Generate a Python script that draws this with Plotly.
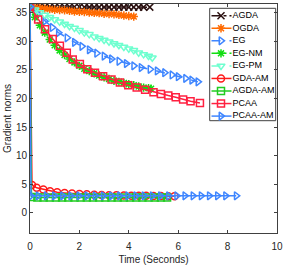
import plotly.graph_objects as go

# ---- data ----
t_agda = [0, 0.2, 0.4, 0.6, 0.8, 1.0, 1.2, 1.4, 1.6, 1.8, 2.0, 2.2, 2.4, 2.6, 2.8, 3.0, 3.2, 3.4, 3.6, 3.8, 4.0, 4.2, 4.4, 4.6, 4.85]
y_agda = [36.0, 36.0, 36.0, 36.0, 36.0, 36.0, 36.0, 36.0, 36.0, 36.0, 36.0, 35.95, 35.95, 35.95, 35.95, 35.95, 35.95, 35.95, 35.95, 35.95, 35.95, 35.95, 35.95, 35.95, 35.95]

t_ogda = [0, 0.2, 0.4, 0.6, 0.8, 1.0, 1.2, 1.4, 1.6, 1.8, 2.0, 2.2, 2.4, 2.6, 2.8, 3.0, 3.2, 3.4, 3.6, 3.8, 4.0, 4.2]
y_ogda = [36.0, 35.9, 35.8, 35.7, 35.6, 35.5, 35.45, 35.4, 35.3, 35.2, 35.15, 35.1, 35.0, 34.95, 34.9, 34.8, 34.75, 34.7, 34.6, 34.5, 34.4, 34.3]

t_eg = [0, 0.3, 0.6, 0.9, 1.15, 1.5, 1.8, 2.1, 2.4, 2.7, 3.0, 3.3, 3.6, 3.9, 4.2, 4.5, 4.86, 5.15, 5.45, 5.75, 6.0, 6.3, 6.55, 6.8]
y_eg = [36.0, 34.8, 33.5, 32.4, 31.5, 30.6, 29.8, 29.1, 28.5, 27.9, 27.4, 26.9, 26.5, 26.1, 25.7, 25.4, 25.1, 24.8, 24.5, 24.1, 23.8, 23.5, 23.2, 22.9]

t_egnm = [0, 0.2, 0.4, 0.6, 0.8, 1.0, 1.2, 1.4, 1.6, 1.8, 2.0, 2.2, 2.4, 2.6, 2.8, 3.0, 3.2, 3.4, 3.6, 3.8, 4.0, 4.2, 4.4, 4.6, 4.8, 4.9]
y_egnm = [36.0, 34.2, 32.8, 31.5, 30.3, 29.3, 28.4, 27.6, 26.9, 26.3, 25.7, 25.2, 24.8, 24.4, 24.0, 23.7, 23.4, 23.1, 22.9, 22.7, 22.5, 22.3, 22.1, 21.9, 21.8, 21.7]

t_egpm = [0, 0.2, 0.4, 0.6, 0.8, 1.0, 1.2, 1.4, 1.6, 1.8, 2.0, 2.2, 2.4, 2.6, 2.8, 3.0, 3.2, 3.4, 3.6, 3.8, 4.0, 4.2, 4.4, 4.6, 4.8, 4.95]
y_egpm = [36.0, 35.5, 35.0, 34.6, 34.2, 33.8, 33.4, 33.0, 32.6, 32.3, 31.9, 31.5, 31.2, 30.8, 30.5, 30.2, 29.9, 29.6, 29.3, 29.0, 28.7, 28.4, 28.0, 27.7, 27.4, 27.1]

t_gdaam = [0, 0.08, 0.27, 0.54, 0.81, 1.1, 1.4, 1.7, 2.0, 2.3, 2.6, 2.9, 3.2, 3.5, 3.8, 4.1, 4.4, 4.7, 5.0, 5.3, 5.6, 5.85]
y_gdaam = [36.0, 4.9, 4.4, 4.1, 3.8, 3.6, 3.5, 3.4, 3.3, 3.25, 3.2, 3.15, 3.1, 3.1, 3.05, 3.0, 3.0, 3.0, 2.95, 2.95, 2.9, 2.9]

t_agdaam = [0, 0.06, 0.3, 0.55, 0.8, 1.05, 1.3, 1.55, 1.8, 2.05, 2.3, 2.55, 2.8, 3.05, 3.3, 3.55, 3.8, 4.05, 4.3, 4.55, 4.8, 5.05, 5.3, 5.55]
y_agdaam = [36.0, 2.8, 2.7, 2.7, 2.7, 2.7, 2.7, 2.7, 2.7, 2.7, 2.7, 2.7, 2.7, 2.7, 2.7, 2.7, 2.7, 2.7, 2.7, 2.7, 2.7, 2.7, 2.7, 2.7]

t_pcaa = [0, 0.33, 0.61, 0.92, 1.21, 1.49, 1.73, 2.02, 2.32, 2.63, 2.96, 3.3, 3.64, 3.98, 4.32, 4.66, 5.0, 5.3, 5.6, 5.9, 6.2, 6.5, 6.88]
y_pcaa = [36.0, 33.8, 32.1, 30.4, 29.2, 28.0, 26.8, 26.0, 25.1, 24.5, 23.9, 23.3, 22.8, 22.3, 21.9, 21.5, 21.1, 20.8, 20.5, 20.2, 19.8, 19.5, 19.2]

t_pcaaam = [0, 0.04, 0.33, 0.66, 0.99, 1.32, 1.65, 1.98, 2.31, 2.64, 2.97, 3.3, 3.63, 3.96, 4.29, 4.62, 4.95, 5.28, 5.61, 5.94, 6.27, 6.6, 6.93, 7.26, 7.59, 7.92, 8.35]
y_pcaaam = [36.0, 3.0, 3.0, 3.0, 3.0, 3.0, 3.0, 3.0, 3.0, 3.0, 3.0, 3.0, 3.0, 3.0, 3.0, 3.0, 3.0, 3.0, 3.0, 3.0, 3.0, 3.0, 3.0, 3.0, 3.0, 3.0, 3.0]

x_ticks = [0, 2, 4, 6, 8, 10]
y_ticks = [0, 5, 10, 15, 20, 25, 30, 35]
names = ["AGDA", "OGDA", "EG", "EG-NM", "EG-PM", "GDA-AM", "AGDA-AM", "PCAA", "PCAA-AM"]

# styles
colors = ["#2a1010", "#ff6a00", "#3f86ff", "#11dd11", "#6effcf", "#ff1a1a", "#22cc22", "#ff2040", "#3f86ff"]
dashes = ["dashdot", "solid", "dash", "dashdot", "dash", "solid", "solid", "solid", "solid"]
symbols = ["x-thin-open", "asterisk-open", "triangle-right-open", "asterisk-open", "triangle-down-open",
           "circle-open", "square-open", "square-open", "triangle-right-open"]
xs_all = [t_agda, t_ogda, t_eg, t_egnm, t_egpm, t_gdaam, t_agdaam, t_pcaa, t_pcaaam]
ys_all = [y_agda, y_ogda, y_eg, y_egnm, y_egpm, y_gdaam, y_agdaam, y_pcaa, y_pcaaam]

W, H = 287, 268
ML, MR, MT, MB = 30, 10, 4, 35
FONT = "Liberation Sans, Arial, sans-serif"

fig = go.Figure()
for name, xs, ys, col, dash, sym in zip(names, xs_all, ys_all, colors, dashes, symbols):
    fig.add_trace(go.Scatter(
        x=xs, y=ys, name=name, mode="lines+markers", showlegend=False,
        line=dict(color=col, width=1.5, dash=dash),
        marker=dict(symbol=sym, size=7, color=col, line=dict(color=col, width=1.5)),
    ))

# ---- compact legend drawn on an overlay axis in pixel units ----
LX0, LX1, LY0, LY1 = 209.7, 275.7, 8.3, 120.7
row0, row_gap = 15.7, 12.55
for i, (name, col, dash, sym) in enumerate(zip(names, colors, dashes, symbols)):
    ry = row0 + row_gap * i
    fig.add_trace(go.Scatter(
        x=[211.5, 231.5], y=[ry, ry], mode="lines", showlegend=False, hoverinfo="skip",
        line=dict(color=col, width=1.5, dash=dash), xaxis="x2", yaxis="y2"))
    fig.add_trace(go.Scatter(
        x=[221], y=[ry], mode="markers", showlegend=False, hoverinfo="skip",
        marker=dict(symbol=sym, size=7, color=col, line=dict(color=col, width=1.5)),
        xaxis="x2", yaxis="y2"))
    fig.add_trace(go.Scatter(
        x=[232.5], y=[ry], mode="text", text=[name], textposition="middle right",
        showlegend=False, hoverinfo="skip",
        textfont=dict(family=FONT, size=9, color="#000000"), xaxis="x2", yaxis="y2"))

fig.add_shape(type="rect", xref="x2", yref="y2", x0=LX0, x1=LX1, y0=LY0, y1=LY1,
              line=dict(color="#404040", width=1), fillcolor="white", layer="below")

axis_common = dict(
    showline=True, linecolor="#404040", linewidth=1, mirror="ticks",
    ticks="inside", ticklen=3, tickcolor="#404040",
    showgrid=False, zeroline=False, automargin=False,
    tickfont=dict(family=FONT, size=10, color="#262626"),
)

fig.update_layout(
    width=W, height=H,
    margin=dict(l=ML, r=MR, t=MT, b=MB),
    plot_bgcolor="white", paper_bgcolor="white",
    xaxis=dict(range=[0, 10], tickvals=x_ticks, ticklabelstandoff=4,
               title=dict(text="Time (Seconds)", standoff=4,
                          font=dict(family=FONT, size=10, color="#262626")),
               **axis_common),
    yaxis=dict(range=[-3.5, 36.5], tickvals=y_ticks,
               title=dict(text="Gradient norms", standoff=2,
                          font=dict(family=FONT, size=10, color="#262626")),
               **axis_common),
    xaxis2=dict(overlaying="x", range=[ML, W - MR], visible=False, anchor="y2"),
    yaxis2=dict(overlaying="y", range=[H - MB, MT], visible=False, anchor="x2"),
    showlegend=False,
)

fig.write_html("out.html", config={"displayModeBar": False},
               post_script="document.body.style.margin='0px';document.body.style.overflow='hidden';")
